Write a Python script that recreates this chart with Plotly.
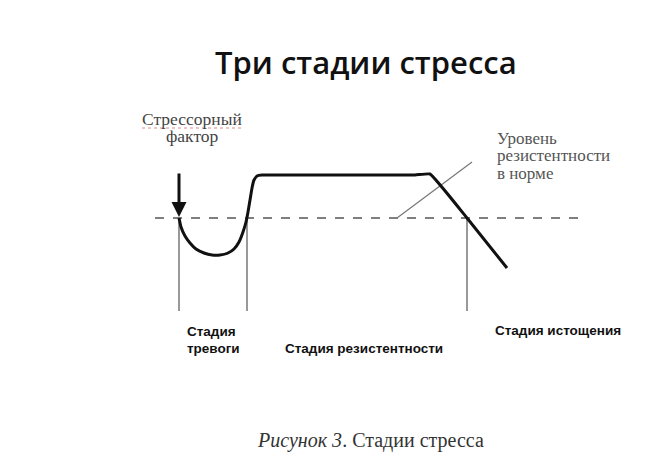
import plotly.graph_objects as go

# Curve of resistance level (diagram coordinates = page pixels)
curve_x = [179, 181, 185, 190, 196, 204, 212, 220, 228, 234, 239, 243, 246, 248, 250, 252, 254, 257, 262, 415, 430, 467, 507]
curve_y = [218, 227, 236, 243, 249, 253, 255, 255, 253, 249, 242, 232, 222, 212, 200, 188, 180, 176, 175, 175, 174, 218, 268]

norm_level = 218
norm_x = [155, 585]
stage_bounds = [179, 247, 467]
stage_bottom = 311
pointer_x = [397, 472]
pointer_y = [218, 162]

title_text = "Три стадии стресса"
caption_text = "<i>Рисунок 3</i>. Стадии стресса"
stressor_lines = ["Стрессорный", "фактор"]
norm_lines = ["Уровень", "резистентности", "в норме"]
alarm_lines = ["Стадия", "тревоги"]
resist_label = "Стадия резистентности"
exhaust_label = "Стадия истощения"

fig = go.Figure()

fig.add_trace(go.Scatter(x=norm_x, y=[norm_level, norm_level], mode="lines",
                         line=dict(color="#555", width=1.3, dash="dash"), hoverinfo="skip"))
for bx in stage_bounds:
    fig.add_trace(go.Scatter(x=[bx, bx], y=[norm_level, stage_bottom], mode="lines",
                             line=dict(color="#777", width=1.5), hoverinfo="skip"))
fig.add_trace(go.Scatter(x=pointer_x, y=pointer_y, mode="lines",
                         line=dict(color="#777", width=1.2), hoverinfo="skip"))
fig.add_trace(go.Scatter(x=curve_x, y=curve_y, mode="lines",
                         line=dict(color="#111", width=3, shape="spline", smoothing=0.3), hoverinfo="skip"))
fig.add_trace(go.Scatter(x=[142, 243], y=[128, 128], mode="lines",
                         line=dict(color="rgba(200,60,60,0.6)", width=1.2, dash="dot"), hoverinfo="skip"))

fig.add_annotation(x=179, y=217, ax=179, ay=172, xref="x", yref="y", axref="x", ayref="y",
                   showarrow=True, arrowhead=2, arrowsize=1, arrowwidth=3, arrowcolor="#111", text="")

serif = "Liberation Serif, Times New Roman, serif"
sans_b = "Liberation Sans, Arial, sans-serif"

def txt(x, y, t, font, xanchor="center"):
    fig.add_annotation(x=x, y=y, text=t, showarrow=False, xref="x", yref="y",
                       xanchor=xanchor, yanchor="middle", font=font)

txt(366, 62, title_text, dict(family="Open Sans", size=31, color="#111", weight=600))
for i, s in enumerate(stressor_lines):
    txt(192, 119 + 17 * i, s, dict(family=serif, size=17.5, color="#444"))
for i, s in enumerate(norm_lines):
    txt(495, 138 + 17.5 * i, s, dict(family=serif, size=17, color="#555"), xanchor="left")
bold = dict(family=sans_b, size=13.5, color="#111", weight="bold")
for i, s in enumerate(alarm_lines):
    txt(185, 331 + 17 * i, s, bold, xanchor="left")
txt(283, 348, resist_label, bold, xanchor="left")
txt(493, 330, exhaust_label, bold, xanchor="left")
txt(370, 440, caption_text, dict(family=serif, size=20, color="#333"))

# page body has an 8px margin: figure spans page pixels 8..670 x 8..456
fig.update_xaxes(range=[8, 670], visible=False, fixedrange=True)
fig.update_yaxes(range=[456, 8], visible=False, fixedrange=True)
fig.update_layout(width=662, height=448, margin=dict(l=0, r=0, t=0, b=0),
                  plot_bgcolor="white", paper_bgcolor="white", showlegend=False)

fig.write_html("out.html")
